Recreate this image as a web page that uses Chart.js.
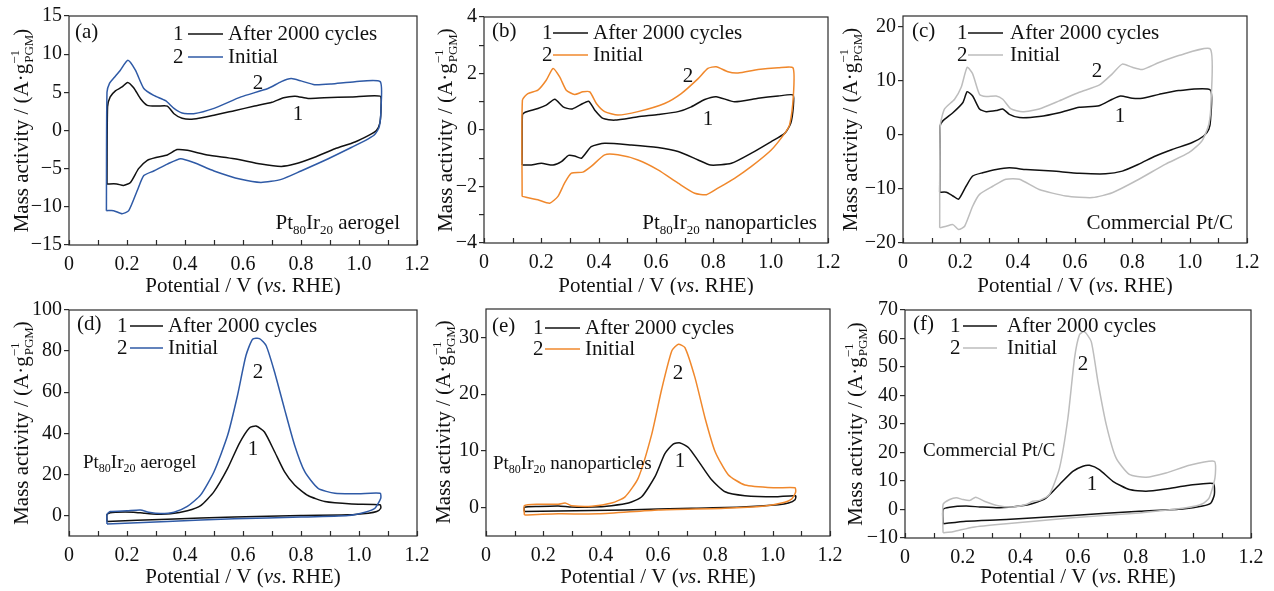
<!DOCTYPE html>
<html>
<head>
<meta charset="utf-8">
<script src="https://cdn.jsdelivr.net/npm/chart.js@4.4.1/dist/chart.umd.min.js"></script>
<style>
  html, body { margin: 0; padding: 0; background: #fff; }
  #page { position: relative; width: 1274px; height: 591px; overflow: hidden; background: #fff; }
  #page canvas { position: absolute; }
</style>
</head>
<body>
<div id="page"></div>
<script>
// ---- CV loops: [potential / V, mass activity / A g-1], traced anodic then cathodic ----
const aAfter = [[0.131,-7.0],[0.133,3.1],[0.142,4.4],[0.160,5.2],[0.183,5.7],[0.202,6.3],[0.223,5.6],[0.246,4.2],[0.270,3.3],[0.304,3.2],[0.339,3.2],[0.362,2.2],[0.390,1.6],[0.430,1.5],[0.500,2.0],[0.570,2.6],[0.640,3.2],[0.700,3.7],[0.740,4.3],[0.780,4.5],[0.824,4.2],[0.880,4.3],[0.975,4.4],[1.073,4.5],[1.076,3.0],[1.072,1.0],[1.060,0.0],[1.035,-0.6],[0.986,-1.5],[0.917,-2.4],[0.847,-3.5],[0.778,-4.4],[0.732,-4.7],[0.662,-4.4],[0.570,-3.7],[0.477,-3.2],[0.408,-2.6],[0.373,-2.5],[0.339,-3.2],[0.304,-3.5],[0.270,-3.9],[0.240,-5.0],[0.212,-6.8],[0.188,-7.2],[0.165,-7.0],[0.131,-7.0]];
const aInit = [[0.129,-10.5],[0.131,5.0],[0.140,6.2],[0.155,6.9],[0.177,7.9],[0.203,9.2],[0.229,7.9],[0.258,5.5],[0.292,4.6],[0.333,3.9],[0.362,2.9],[0.390,2.3],[0.430,2.2],[0.500,2.9],[0.593,4.4],[0.686,5.5],[0.732,6.4],[0.766,6.8],[0.800,6.5],[0.847,6.0],[0.905,6.1],[0.986,6.4],[1.073,6.4],[1.076,3.0],[1.070,0.5],[1.055,-0.5],[1.032,-1.1],[0.975,-2.2],[0.894,-3.7],[0.800,-5.3],[0.732,-6.4],[0.662,-6.8],[0.593,-6.4],[0.500,-5.3],[0.430,-4.2],[0.385,-3.7],[0.339,-4.4],[0.292,-5.3],[0.258,-5.9],[0.235,-7.9],[0.206,-10.5],[0.183,-10.9],[0.154,-10.5],[0.129,-10.5]];

const bAfter = [[0.133,-1.24],[0.134,0.53],[0.142,0.62],[0.188,0.76],[0.217,0.88],[0.247,1.09],[0.276,0.82],[0.305,0.74],[0.334,0.88],[0.365,1.02],[0.386,0.71],[0.415,0.41],[0.456,0.35],[0.537,0.47],[0.607,0.55],[0.677,0.65],[0.723,0.82],[0.770,1.08],[0.810,1.18],[0.874,1.0],[0.956,1.12],[1.026,1.2],[1.078,1.24],[1.079,0.82],[1.070,0.24],[1.049,-0.12],[1.002,-0.41],[0.933,-0.82],[0.863,-1.18],[0.790,-1.24],[0.747,-1.06],[0.677,-0.76],[0.607,-0.62],[0.514,-0.53],[0.421,-0.47],[0.374,-0.59],[0.340,-1.0],[0.316,-0.92],[0.295,-0.9],[0.270,-1.12],[0.241,-1.24],[0.200,-1.18],[0.165,-1.24],[0.133,-1.24]];
const bInit = [[0.133,-2.35],[0.134,1.06],[0.153,1.29],[0.188,1.41],[0.217,1.76],[0.241,2.18],[0.264,1.88],[0.287,1.41],[0.316,1.26],[0.345,1.35],[0.369,1.35],[0.392,0.94],[0.421,0.65],[0.467,0.53],[0.537,0.65],[0.630,0.94],[0.688,1.29],[0.747,1.82],[0.781,2.18],[0.810,2.24],[0.851,2.06],[0.886,2.02],[0.956,2.14],[1.026,2.2],[1.078,2.2],[1.079,1.18],[1.066,0.18],[1.049,-0.12],[1.002,-0.71],[0.933,-1.29],[0.874,-1.71],[0.816,-2.06],[0.776,-2.29],[0.735,-2.24],[0.677,-1.88],[0.607,-1.41],[0.537,-1.06],[0.467,-0.88],[0.421,-0.88],[0.374,-1.29],[0.345,-1.49],[0.305,-1.53],[0.281,-1.88],[0.258,-2.35],[0.229,-2.59],[0.188,-2.47],[0.133,-2.35]];

const cAfter = [[0.128,-10.6],[0.130,1.7],[0.139,2.6],[0.174,4.1],[0.209,6.0],[0.224,8.0],[0.243,7.2],[0.267,4.8],[0.290,4.3],[0.325,4.5],[0.348,4.8],[0.371,3.8],[0.406,3.2],[0.475,3.4],[0.545,4.1],[0.615,5.1],[0.684,5.4],[0.730,6.6],[0.759,7.2],[0.800,6.8],[0.835,6.8],[0.893,7.5],[0.962,8.2],[1.072,8.3],[1.073,2.9],[1.067,1.05],[1.049,-0.2],[1.009,-1.4],[0.939,-2.7],[0.881,-3.9],[0.823,-5.4],[0.765,-6.7],[0.707,-7.2],[0.615,-7.1],[0.522,-6.7],[0.429,-6.4],[0.371,-6.1],[0.325,-6.4],[0.278,-7.0],[0.243,-7.6],[0.220,-9.5],[0.194,-11.9],[0.174,-11.3],[0.151,-10.6],[0.128,-10.6]];
const cInit = [[0.128,-17.2],[0.130,1.7],[0.145,4.8],[0.180,6.6],[0.203,8.8],[0.224,12.5],[0.243,11.3],[0.267,7.5],[0.290,7.1],[0.325,7.2],[0.348,6.6],[0.377,4.8],[0.417,4.3],[0.475,4.8],[0.545,6.3],[0.615,7.9],[0.684,9.2],[0.730,11.3],[0.765,13.1],[0.800,12.5],[0.835,12.1],[0.893,13.4],[0.962,14.7],[1.072,15.9],[1.075,6.6],[1.067,2.0],[1.043,-1.1],[0.997,-3.3],[0.916,-5.4],[0.823,-8.2],[0.730,-10.7],[0.661,-11.6],[0.568,-11.3],[0.475,-10.1],[0.406,-8.2],[0.359,-8.2],[0.313,-9.5],[0.267,-11.0],[0.243,-13.2],[0.215,-16.9],[0.194,-17.5],[0.174,-16.6],[0.151,-16.9],[0.128,-17.2]];

const dAfter = [[0.131,-2.9],[0.131,0.5],[0.142,1.3],[0.160,1.6],[0.223,1.6],[0.258,1.1],[0.304,0.6],[0.350,0.8],[0.408,2.3],[0.454,4.8],[0.500,11.6],[0.547,22.9],[0.587,35.0],[0.622,42.6],[0.645,43.5],[0.674,40.6],[0.709,31.0],[0.743,21.3],[0.778,14.8],[0.824,9.7],[0.882,6.8],[0.975,5.6],[1.073,5.2],[1.075,3.5],[1.061,1.9],[1.032,1.1],[0.963,0.3],[0.800,0.0],[0.570,-0.8],[0.339,-1.8],[0.131,-2.9]];
const dInit = [[0.131,-4.2],[0.131,0.5],[0.142,1.9],[0.200,2.3],[0.246,2.7],[0.275,1.6],[0.316,1.0],[0.362,1.6],[0.408,4.4],[0.454,10.0],[0.500,21.3],[0.547,39.0],[0.581,58.4],[0.610,77.7],[0.633,85.8],[0.657,86.1],[0.680,82.6],[0.709,69.7],[0.743,51.9],[0.778,34.2],[0.813,21.3],[0.859,13.2],[0.917,10.8],[0.998,10.6],[1.073,10.8],[1.075,8.4],[1.055,3.5],[1.021,1.6],[0.963,0.0],[0.800,-0.8],[0.570,-1.6],[0.339,-2.9],[0.131,-4.2]];

const eAfter = [[0.134,-0.7],[0.134,0.05],[0.183,0.2],[0.252,0.3],[0.299,0.1],[0.369,0.1],[0.438,0.35],[0.497,0.8],[0.543,1.9],[0.590,5.5],[0.624,9.5],[0.653,11.2],[0.677,11.4],[0.706,10.6],[0.741,8.2],[0.787,4.9],[0.834,2.8],[0.903,2.1],[1.008,1.9],[1.080,2.1],[1.078,1.4],[1.055,0.8],[1.020,0.5],[0.892,0.1],[0.717,-0.1],[0.485,-0.4],[0.252,-0.6],[0.134,-0.7]];
const eInit = [[0.134,-1.3],[0.134,0.35],[0.183,0.6],[0.252,0.6],[0.276,0.8],[0.299,0.35],[0.369,0.25],[0.438,0.8],[0.485,1.9],[0.531,5.2],[0.578,12.9],[0.613,20.9],[0.648,27.6],[0.671,28.8],[0.694,28.2],[0.729,22.9],[0.764,15.8],[0.799,9.9],[0.845,5.8],[0.903,4.0],[1.008,3.5],[1.078,3.5],[1.080,2.7],[1.066,1.5],[1.031,0.8],[0.973,0.3],[0.834,-0.1],[0.601,-0.4],[0.392,-1.1],[0.252,-1.1],[0.134,-1.3]];

const fAfter = [[0.132,-5.0],[0.132,0.0],[0.155,0.8],[0.212,1.2],[0.259,0.9],[0.328,0.6],[0.397,1.2],[0.443,2.1],[0.490,4.1],[0.536,8.8],[0.582,13.4],[0.617,15.2],[0.640,15.5],[0.674,14.0],[0.721,9.9],[0.778,7.0],[0.836,6.4],[0.905,7.2],[0.986,8.5],[1.069,9.1],[1.073,5.3],[1.061,2.3],[1.032,1.2],[0.963,0.2],[0.813,-0.6],[0.582,-2.1],[0.351,-3.5],[0.212,-4.1],[0.132,-5.0]];
const fInit = [[0.132,-8.2],[0.132,1.75],[0.155,3.5],[0.178,4.1],[0.201,3.5],[0.225,3.2],[0.245,4.3],[0.275,2.9],[0.328,1.2],[0.374,0.9],[0.420,1.75],[0.443,2.9],[0.467,3.2],[0.501,5.3],[0.536,14.6],[0.565,32.1],[0.588,53.1],[0.605,61.3],[0.622,62.4],[0.646,58.9],[0.669,44.9],[0.698,29.8],[0.732,18.1],[0.778,12.3],[0.836,11.3],[0.905,12.8],[0.986,15.5],[1.073,16.9],[1.075,11.1],[1.055,4.1],[1.032,2.0],[0.975,0.6],[0.813,-1.2],[0.582,-2.9],[0.351,-5.0],[0.236,-6.2],[0.166,-7.8],[0.132,-8.2]];

const seriesNames = ['After 2000 cycles', 'Initial'];
const potentialRange = [0, 1.2];

// ---- look ----
const SERIF = '"Liberation Serif", "Times New Roman", serif';
const INK = '#111';
const AXIS = '#2a2a2a';
const BLUE = '#2f5aa6';
const ORANGE = '#f0882c';
const GREY = '#bdbdbd';

const aerogel = [['Pt',''],['80','sub'],['Ir',''],['20','sub'],[' aerogel','']];
const nanoparticles = [['Pt',''],['80','sub'],['Ir',''],['20','sub'],[' nanoparticles','']];
const commercial = [['Commercial Pt/C','']];

// page-coordinate layout of every panel; y = [min, max, labelled step, half-step ticks?]
const panels = [
  { tag: '(a)', box: [0, 0, 440, 295], area: [69, 16, 417, 245], y: [-15, 15, 5, false],
    after: aAfter, initial: aInit, color: BLUE, titleX: 28, xTitleY: 292,
    tagAt: [75, 38], leg: [173, 188, 223, 228, 40, 63], c1: [298, 120], c2: [258, 89],
    sample: { parts: aerogel, x: 400, y: 229, align: 'right', size: 21 } },
  { tag: '(b)', box: [420, 0, 440, 295], area: [484, 17, 828, 243], y: [-4, 4, 2, true],
    after: bAfter, initial: bInit, color: ORANGE, titleX: 452, xTitleY: 292,
    tagAt: [492, 37], leg: [542, 553, 588, 593, 39, 61], c1: [708, 125], c2: [688, 82],
    sample: { parts: nanoparticles, x: 817, y: 229, align: 'right', size: 21 } },
  { tag: '(c)', box: [830, 0, 444, 295], area: [903, 16, 1247, 243], y: [-20, 22, 10, false],
    after: cAfter, initial: cInit, color: GREY, titleX: 857, xTitleY: 292,
    tagAt: [912, 37], leg: [957, 968, 1003, 1010, 39, 61], c1: [1120, 122], c2: [1097, 77],
    sample: { parts: commercial, x: 1233, y: 229, align: 'right', size: 21 } },
  { tag: '(d)', box: [0, 295, 440, 296], area: [69, 310, 417, 536], y: [-10, 100, 20, false],
    after: dAfter, initial: dInit, color: BLUE, titleX: 28, xTitleY: 583,
    tagAt: [77, 330], leg: [117, 130, 163, 168, 332, 354], c1: [253, 455], c2: [258, 378],
    sample: { parts: aerogel, x: 83, y: 468, align: 'left', size: 19 } },
  { tag: '(e)', box: [420, 295, 440, 296], area: [486, 308, 830, 536], y: [-5, 35, 10, false],
    after: eAfter, initial: eInit, color: ORANGE, titleX: 450, xTitleY: 583,
    tagAt: [492, 332], leg: [533, 545, 580, 585, 334, 355], c1: [680, 467], c2: [678, 379],
    sample: { parts: nanoparticles, x: 493, y: 469, align: 'left', size: 19 } },
  { tag: '(f)', box: [830, 295, 444, 296], area: [905, 310, 1251, 538], y: [-10, 70, 10, false],
    after: fAfter, initial: fInit, color: GREY, titleX: 862, xTitleY: 583,
    tagAt: [913, 330], leg: [950, 963, 997, 1007, 332, 354], c1: [1092, 490], c2: [1083, 370],
    sample: { parts: commercial, x: 923, y: 456, align: 'left', size: 19 } }
];

// mixed-style text: kinds '' normal, 'it' italic, 'sub', 'sup', 'stack' ([sup, sub] stacked)
function rich(ctx, parts, x, y, align, size) {
  const small = Math.round(size * 0.62);
  const font = (k) => (k === 'it' ? 'italic ' : '') + (k && k !== 'it' ? small : size) + 'px ' + SERIF;
  const widthOf = ([t, k]) => {
    if (k === 'stack') {
      ctx.font = font('sup');
      return Math.max(ctx.measureText(t[0]).width, ctx.measureText(t[1]).width);
    }
    ctx.font = font(k);
    return ctx.measureText(t).width;
  };
  const total = parts.reduce((s, p) => s + widthOf(p), 0);
  let cx = align === 'center' ? x - total / 2 : align === 'right' ? x - total : x;
  ctx.textAlign = 'left';
  ctx.textBaseline = 'alphabetic';
  parts.forEach((p) => {
    const [t, k] = p;
    const w = widthOf(p);
    if (k === 'stack') {
      ctx.fillText(t[0], cx, y - size * 0.42);
      ctx.fillText(t[1], cx + 1, y + size * 0.24);
    } else {
      ctx.font = font(k);
      const dy = k === 'sub' ? size * 0.22 : k === 'sup' ? -size * 0.42 : 0;
      ctx.fillText(t, cx, y + dy);
    }
    cx += w;
  });
}

const yTitle = [['Mass activity / (A\u00b7g',''], [['\u22121','PGM'],'stack'], [')','']];
const xTitle = [['Potential / V (',''], ['vs','it'], ['. RHE)','']];

function decorations(p) {
  const [bx, by] = p.box;
  return {
    id: 'decor',
    afterDraw(chart) {
      const ctx = chart.ctx;
      const ca = chart.chartArea;
      const xs = chart.scales.x;
      ctx.save();
      // frame
      ctx.strokeStyle = AXIS;
      ctx.lineWidth = 1.2;
      ctx.strokeRect(ca.left, ca.top, ca.right - ca.left, ca.bottom - ca.top);
      // potential ticks point into the plot
      ctx.beginPath();
      xs.ticks.forEach((t) => {
        const px = Math.round(xs.getPixelForValue(t.value)) + 0.5;
        ctx.moveTo(px, ca.bottom);
        ctx.lineTo(px, ca.bottom - 5);
      });
      ctx.stroke();

      // everything below is placed in page coordinates
      ctx.translate(-bx, -by);
      ctx.fillStyle = INK;

      ctx.save();
      ctx.translate(p.titleX, (p.area[1] + p.area[3]) / 2);
      ctx.rotate(-Math.PI / 2);
      rich(ctx, yTitle, 0, 0, 'center', 21);
      ctx.restore();
      rich(ctx, xTitle, (p.area[0] + p.area[2]) / 2, p.xTitleY, 'center', 21);

      rich(ctx, [[p.tag, '']], p.tagAt[0], p.tagAt[1], 'left', 21);

      const [nx, l0, l1, tx, r1, r2] = p.leg;
      [[r1, '1', '#111', seriesNames[0]], [r2, '2', p.color, seriesNames[1]]].forEach(([ry, n, col, label]) => {
        ctx.fillStyle = INK;
        rich(ctx, [[n, '']], nx, ry, 'left', 21);
        rich(ctx, [[label, '']], tx, ry, 'left', 21);
        ctx.strokeStyle = col;
        ctx.lineWidth = 1.5;
        ctx.beginPath();
        ctx.moveTo(l0, ry - 6);
        ctx.lineTo(l1, ry - 6);
        ctx.stroke();
      });

      ctx.fillStyle = INK;
      rich(ctx, [['1', '']], p.c1[0], p.c1[1], 'center', 21);
      rich(ctx, [['2', '']], p.c2[0], p.c2[1], 'center', 21);
      rich(ctx, p.sample.parts, p.sample.x, p.sample.y, p.sample.align, p.sample.size);
      ctx.restore();
    }
  };
}

const fmt = (v) => (v < 0 ? '\u2212' + Math.abs(v) : String(v));
const toPoints = (pairs) => pairs.map(([x, y]) => ({ x, y }));

// tick values on the activity axis: multiples of the step (or half step) inside the range
function activityTicks(yMin, yMax, step, minor) {
  const s = minor ? step / 2 : step;
  const out = [];
  for (let v = Math.ceil(yMin / s) * s; v <= yMax + 1e-9; v += s) out.push({ value: Math.round(v * 1000) / 1000 });
  return out;
}

const page = document.getElementById('page');
panels.forEach((p) => {
  const [bx, by, bw, bh] = p.box;
  const [al, at, ar, ab] = [p.area[0] - bx, p.area[1] - by, p.area[2] - bx, p.area[3] - by];
  const [yMin, yMax, yStep, yMinor] = p.y;
  const cv = document.createElement('canvas');
  cv.width = bw;
  cv.height = bh;
  cv.style.left = bx + 'px';
  cv.style.top = by + 'px';
  cv.style.width = bw + 'px';
  cv.style.height = bh + 'px';
  page.appendChild(cv);

  new Chart(cv, {
    type: 'scatter',
    data: {
      datasets: [
        { label: seriesNames[1], data: toPoints(p.initial), showLine: true, borderColor: p.color,
          borderWidth: 1.5, pointRadius: 0, tension: 0.2, fill: false },
        { label: seriesNames[0], data: toPoints(p.after), showLine: true, borderColor: '#111',
          borderWidth: 1.5, pointRadius: 0, tension: 0.2, fill: false }
      ]
    },
    options: {
      responsive: false,
      animation: false,
      devicePixelRatio: 1,
      layout: { padding: { left: 0, top: at, right: bw - ar, bottom: 0 } },
      plugins: { legend: { display: false }, tooltip: { enabled: false } },
      scales: {
        x: {
          type: 'linear',
          min: potentialRange[0],
          max: potentialRange[1],
          afterFit: (s) => { s.height = bh - ab; },
          grid: { display: false },
          border: { display: false },
          ticks: {
            stepSize: 0.1,
            autoSkip: false,
            maxRotation: 0,
            padding: 0,
            color: INK,
            font: { family: SERIF, size: 20 },
            callback: (v) => (Math.round(v * 10) % 2 ? '' : (v === 0 ? '0' : v.toFixed(1)))
          }
        },
        y: {
          type: 'linear',
          min: yMin,
          max: yMax,
          afterFit: (s) => { s.width = al; },
          afterBuildTicks: (s) => { s.ticks = activityTicks(yMin, yMax, yStep, yMinor); },
          grid: { drawOnChartArea: false, drawTicks: true, tickLength: 5, color: AXIS, lineWidth: 1.2 },
          border: { display: false },
          ticks: {
            autoSkip: false,
            padding: 2,
            color: INK,
            font: { family: SERIF, size: 20 },
            callback: (v) => (Math.abs(v / yStep - Math.round(v / yStep)) < 1e-6 ? fmt(v) : '')
          }
        }
      }
    },
    plugins: [decorations(p)]
  });
});
</script>
</body>
</html>
